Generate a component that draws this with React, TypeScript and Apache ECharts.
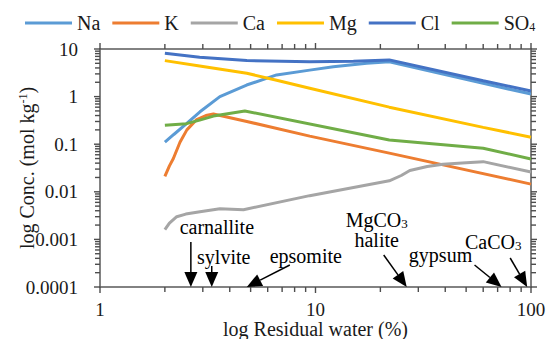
import React, { useEffect, useRef } from 'react';
import * as echarts from 'echarts';

// ---------- data ----------
const seriesNames = ['Na', 'K', 'Ca', 'Mg', 'Cl', 'SO4'];
const seriesColors = ['#5B9BD5', '#ED7D31', '#A5A5A5', '#FFC000', '#4472C4', '#70AD47'];

const naX = [2, 2.2, 2.52, 2.91, 3.6, 4.79, 6.6, 9.4, 12.1, 17.3, 22, 60, 100];
const naY = [0.11, 0.16, 0.27, 0.48, 1.0, 1.75, 2.85, 3.6, 4.25, 5.0, 5.4, 1.9, 1.13];

const kX = [2, 2.1, 2.19, 2.35, 2.53, 2.81, 3.1, 3.36, 4.8, 9.4, 22, 100];
const kY = [0.021, 0.035, 0.05, 0.11, 0.2, 0.33, 0.4, 0.43, 0.3, 0.148, 0.065, 0.0145];

const caX = [2, 2.1, 2.27, 2.5, 2.91, 3.6, 4.63, 9.4, 22, 25, 27.4, 33, 39, 50, 60, 100];
const caY = [0.0016, 0.0022, 0.003, 0.0034, 0.0038, 0.0044, 0.0042, 0.0083, 0.017, 0.022, 0.028, 0.034, 0.038, 0.041, 0.043, 0.026];

const mgX = [2, 2.9, 4.8, 6.6, 9.4, 22, 60, 100];
const mgY = [5.7, 4.4, 3.1, 2.2, 1.5, 0.6, 0.226, 0.14];

const clX = [2, 2.9, 4.8, 9.4, 15, 22, 60, 100];
const clY = [8.1, 6.7, 5.7, 5.4, 5.5, 5.9, 2.16, 1.31];

const so4X = [2, 2.52, 2.9, 3.36, 4.7, 22, 60, 100];
const so4Y = [0.25, 0.27, 0.32, 0.39, 0.5, 0.123, 0.082, 0.049];

const xDecades = [1, 10, 100];
const yDecades = [0.0001, 0.001, 0.01, 0.1, 1, 10];
const tickMultiples = [1, 2, 3, 4, 5, 6, 7, 8, 9];

const mineralLabels = ['carnallite', 'sylvite', 'epsomite', 'MgCO{sub|3}\nhalite', 'gypsum', 'CaCO{sub|3}'];
const mineralX = [2.64, 3.3, 4.8, 26.5, 73, 96];

// ---------- helpers ----------
const xs = [naX, kX, caX, mgX, clX, so4X];
const ys = [naY, kY, caY, mgY, clY, so4Y];

const FONT = 'Liberation Serif';
const AXIS_COLOR = '#595959';
const TEXT_COLOR = '#1a1a1a';

function isDecade(v: number) {
  const l = Math.log10(v);
  return Math.abs(l - Math.round(l)) < 1e-6;
}

function buildTicks() {
  const xMin = xDecades[0], xMax = xDecades[xDecades.length - 1];
  const yMin = yDecades[0], yMax = yDecades[yDecades.length - 1];
  const items: number[][] = [];
  const xVals: number[] = [];
  xDecades.forEach((d) => tickMultiples.forEach((m) => { const v = +(d * m).toPrecision(6); if (v <= xMax) xVals.push(v); }));
  const yVals: number[] = [];
  yDecades.forEach((d) => tickMultiples.forEach((m) => { const v = +(d * m).toPrecision(6); if (v <= yMax) yVals.push(v); }));
  xVals.forEach((v) => { items.push([v, yMin, 0]); items.push([v, yMax, 1]); });
  yVals.forEach((v) => { items.push([xMin, v, 2]); items.push([xMax, v, 3]); });
  return items;
}

// layout of annotation arrows (pixel offsets from the arrow tip)
const arrowTail = [[0, -45], [0, -21], [43, -22], [-23, -32], [-27, -22], [-17, -29]];
const labelOffset = [[26, -60], [12, -30], [59, -31], [-30, -57], [-61, -32], [-34, -45]];

function fmtLog(v: number) {
  const e = Math.round(Math.log10(v));
  if (e >= 0) return String(Math.pow(10, e));
  return '0.' + '0'.repeat(-e - 1) + '1';
}

export default function App() {
  const ref = useRef<HTMLDivElement>(null);
  useEffect(() => {
    if (!ref.current) return;
    const chart = echarts.init(ref.current, undefined, { renderer: 'svg' });
    const lineSeries = seriesNames.map((name, i) => ({
      name,
      type: 'line',
      xAxisIndex: 0,
      yAxisIndex: 0,
      data: xs[i].map((x, j) => [x, ys[i][j]]),
      showSymbol: false,
      symbol: 'none',
      lineStyle: { width: 3, color: seriesColors[i] },
      itemStyle: { color: seriesColors[i] },
      z: 3,
    }));
    const yMin = yDecades[0];
    const option: any = {
      animation: false,
      textStyle: { fontFamily: FONT },
      legend: {
        data: seriesNames,
        left: 20,
        top: 8,
        icon: 'rect',
        itemWidth: 47,
        itemHeight: 3,
        itemGap: 12,
        formatter: (name: string) => (name === 'SO4' ? 'SO{sub|4}' : name),
        textStyle: {
          fontFamily: FONT,
          fontSize: 20,
          color: TEXT_COLOR,
          rich: { sub: { fontFamily: FONT, fontSize: 12, verticalAlign: 'bottom', color: TEXT_COLOR } },
        },
      },
      grid: { left: 100, right: 26, top: 49, bottom: 52, containLabel: false, outerBoundsMode: 'none' },
      xAxis: [
        {
          type: 'log',
          logBase: 10,
          min: xDecades[0],
          max: xDecades[xDecades.length - 1],
          name: 'log Residual water (%)',
          nameLocation: 'middle',
          nameGap: 32,
          nameMoveOverlap: false,
          nameTextStyle: { fontFamily: FONT, fontSize: 20, color: TEXT_COLOR },
          axisLine: { show: true, onZero: false, lineStyle: { color: AXIS_COLOR, width: 1.5 } },
          axisTick: { show: false },
          splitLine: { show: false },
          axisLabel: { fontFamily: FONT, fontSize: 19, color: TEXT_COLOR, margin: 13, formatter: fmtLog },
        },
        {
          type: 'log',
          logBase: 10,
          min: xDecades[0],
          max: xDecades[xDecades.length - 1],
          position: 'top',
          axisLine: { show: true, onZero: false, lineStyle: { color: AXIS_COLOR, width: 1.5 } },
          axisTick: { show: false },
          splitLine: { show: false },
          axisLabel: { show: false },
        },
      ],
      yAxis: [
        {
          type: 'log',
          logBase: 10,
          min: yDecades[0],
          max: yDecades[yDecades.length - 1],
          name: 'log Conc. (mol kg{sup|-1})',
          nameLocation: 'middle',
          nameGap: 63,
          nameMoveOverlap: false,
          nameRotate: 90,
          nameTextStyle: {
            fontFamily: FONT,
            fontSize: 20,
            color: TEXT_COLOR,
            rich: { sup: { fontFamily: FONT, fontSize: 12, verticalAlign: 'top', color: TEXT_COLOR } },
          },
          axisLine: { show: true, onZero: false, lineStyle: { color: AXIS_COLOR, width: 1.5 } },
          axisTick: { show: false },
          splitLine: { show: false },
          axisLabel: { fontFamily: FONT, fontSize: 19, color: TEXT_COLOR, margin: 22, formatter: fmtLog },
        },
        {
          type: 'log',
          logBase: 10,
          min: yDecades[0],
          max: yDecades[yDecades.length - 1],
          position: 'right',
          axisLine: { show: true, onZero: false, lineStyle: { color: AXIS_COLOR, width: 1.5 } },
          axisTick: { show: false },
          splitLine: { show: false },
          axisLabel: { show: false },
        },
      ],
      series: [
        ...lineSeries,
        {
          type: 'custom',
          name: 'minerals',
          xAxisIndex: 0,
          yAxisIndex: 0,
          silent: true,
          clip: false,
          encode: { x: 0, y: 1 },
          data: mineralX.map((x, i) => [x, yMin, i]),
          renderItem: (params: any, api: any) => {
            const idx = api.value(2);
            const tip = api.coord([api.value(0), api.value(1)]);
            const tail = [tip[0] + arrowTail[idx][0], tip[1] + arrowTail[idx][1]];
            const dx = tip[0] - tail[0], dy = tip[1] - tail[1];
            const L = Math.sqrt(dx * dx + dy * dy);
            const ux = dx / L, uy = dy / L;
            const hl = 15, hw = 6.5;
            const bx = tip[0] - ux * hl, by = tip[1] - uy * hl;
            const nx = -uy, ny = ux;
            return {
              type: 'group',
              children: [
                {
                  type: 'line',
                  shape: { x1: tail[0], y1: tail[1], x2: bx, y2: by },
                  style: { stroke: '#000', lineWidth: 1.5 },
                },
                {
                  type: 'polygon',
                  shape: { points: [[tip[0], tip[1]], [bx + nx * hw, by + ny * hw], [bx - nx * hw, by - ny * hw]] },
                  style: { fill: '#000' },
                },
                {
                  type: 'text',
                  x: tip[0] + labelOffset[idx][0],
                  y: tip[1] + labelOffset[idx][1],
                  style: {
                    text: mineralLabels[idx],
                    fontFamily: FONT,
                    fontSize: 20,
                    lineHeight: 20,
                    fill: '#000',
                    align: 'center',
                    verticalAlign: 'middle',
                    rich: {
                      sub: { fontFamily: FONT, fontSize: 13, verticalAlign: 'bottom', lineHeight: 20, padding: [6, 0, 0, 0], fill: '#000' },
                    },
                  },
                },
              ],
            };
          },
          z: 6,
        },
      ],
    };
    chart.setOption(option);

    // axis ticks at every 1..9 x 10^n, placed through the axes' own scales (drawn as thin filled rects)
    const tw = 1.4;
    const tickGraphics = buildTicks().map(([xv, yv, side]) => {
      const p = chart.convertToPixel({ seriesIndex: 0 } as any, [xv, yv]) as unknown as number[];
      const v = side < 2 ? xv : yv;
      const len = isDecade(v) ? 6 : 5;
      let shape;
      if (side === 0) shape = { x: p[0] - tw / 2, y: p[1], width: tw, height: len };
      else if (side === 1) shape = { x: p[0] - tw / 2, y: p[1] - len, width: tw, height: len };
      else if (side === 2) shape = { x: p[0] - len, y: p[1] - tw / 2, width: len, height: tw };
      else shape = { x: p[0], y: p[1] - tw / 2, width: len, height: tw };
      return {
        type: 'rect',
        z: 100,
        shape,
        style: { fill: '#4d4d4d' },
      };
    });
    chart.setOption({ graphic: tickGraphics });
    return () => chart.dispose();
  }, []);
  return (
    <div
      ref={ref}
      style={{ position: 'fixed', left: 0, top: 0, width: 557, height: 339, background: '#fff' }}
    />
  );
}
